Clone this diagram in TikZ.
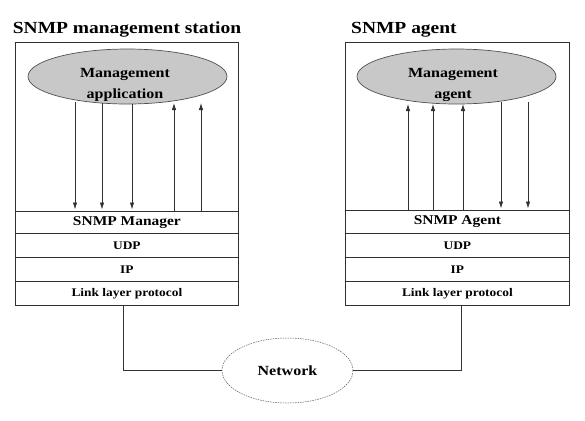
\documentclass[tikz,border=0pt]{standalone}
\usepackage{fontspec}
\setmainfont[FakeStretch=1.15]{Liberation Serif}
\usetikzlibrary{arrows.meta,shapes.geometric}
\definecolor{linec}{HTML}{303030}
\definecolor{ellfill}{HTML}{C8C8C8}
\definecolor{ellline}{HTML}{505050}
\begin{document}
\begin{tikzpicture}[x=1bp,y=-1bp,
  title/.style={font=\fontsize{17}{20}\selectfont\bfseries, inner sep=0pt, anchor=base west},
  hostbox/.style={draw=linec, line width=0.8bp, rectangle, inner sep=0pt, anchor=north west},
  layer/.style={draw=linec, line width=0.8bp, rectangle, inner sep=0pt, anchor=north west,
    minimum height=24bp, font=\fontsize{11.7}{14}\selectfont\bfseries},
  snmplayer/.style={layer, font=\fontsize{13.5}{16}\selectfont\bfseries},
  mgmtell/.style={draw=ellline, fill=ellfill, line width=0.7bp, ellipse, inner sep=0pt,
    minimum width=199bp, minimum height=55bp},
  elltext/.style={font=\fontsize{14}{20.6}\selectfont\bfseries, align=center, inner sep=0pt},
  netell/.style={draw=gray!70!black, dashed, dash pattern=on 1.5bp off 1bp, line width=0.5bp,
    ellipse, inner sep=0pt, minimum width=131bp, minimum height=65bp,
    font=\fontsize{14}{16}\selectfont\bfseries},
  arr/.style={draw=linec, line width=0.8bp, -{Latex[length=7bp,width=4.5bp]}},
  arrdn/.style={arr, shorten >=1.5bp},
  wire/.style={draw=gray!40!black, line width=0.6bp}
]
\useasboundingbox (0,0) rectangle (585,420);

% titles
\node[title] (t1) at (12.7,33) {SNMP management station};
\node[title] (t2) at (351,33) {SNMP agent};

% management station
\node[hostbox, minimum width=223bp, minimum height=169bp] (st) at (15,42) {};
\node[mgmtell] (mapp) at (127.5,76.5) {};
\node[elltext] (mapptxt) at (125,84.8) {Management\\application};
\node[snmplayer, minimum width=223bp, minimum height=22bp] (mgr) at (15,211) {SNMP Manager};
\node[layer, minimum width=223bp] (udp1) at (15,233) {UDP};
\node[layer, minimum width=223bp] (ip1) at (15,257) {IP};
\node[layer, minimum width=223bp] (lnk1) at (15,281) {Link layer protocol};

\draw[arrdn] (75,102) -- (75,0 |- mgr.north);
\draw[arrdn] (102,103) -- (102,0 |- mgr.north);
\draw[arrdn] (132,104) -- (132,0 |- mgr.north);
\draw[arr] (174,0 |- mgr.north) -- (174,103);
\draw[arr] (201,0 |- mgr.north) -- (201,103);

% agent
\node[hostbox, minimum width=224bp, minimum height=168bp] (ag) at (345,42) {};
\node[mgmtell] (magt) at (456.5,76.5) {};
\node[elltext] (magttxt) at (453,84.8) {Management\\agent};
\node[snmplayer, minimum width=224bp, minimum height=23bp] (agt) at (345,210) {SNMP Agent};
\node[layer, minimum width=224bp] (udp2) at (345,233) {UDP};
\node[layer, minimum width=224bp] (ip2) at (345,257) {IP};
\node[layer, minimum width=224bp] (lnk2) at (345,281) {Link layer protocol};

\draw[arr] (408,0 |- agt.north) -- (408,104);
\draw[arr] (433,0 |- agt.north) -- (433,104);
\draw[arr] (463,0 |- agt.north) -- (463,104);
\draw[arrdn] (501,102) -- (501,0 |- agt.north);
\draw[arrdn] (528,102) -- (528,0 |- agt.north);

% network
\node[netell] (net) at (287.5,370.5) {Network};
\draw[wire] (123,0 |- lnk1.south) |- (net.west);
\draw[wire] (461,0 |- lnk2.south) |- (net.east);
\end{tikzpicture}
\end{document}
